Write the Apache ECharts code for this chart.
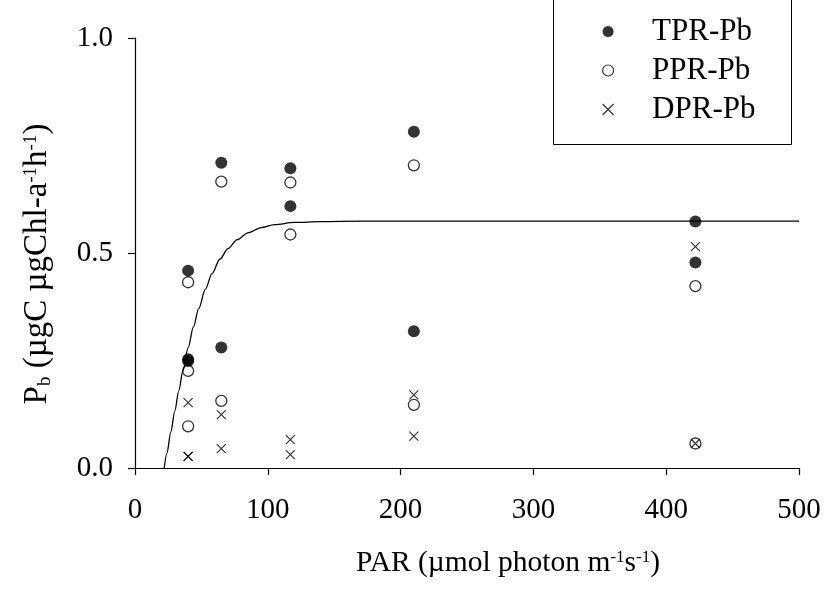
<!DOCTYPE html>
<html>
<head>
<meta charset="utf-8">
<script src="https://cdn.jsdelivr.net/npm/echarts@6/dist/echarts.min.js"></script>
<style>
html,body{margin:0;padding:0;background:#fff;}
#chart{width:825px;height:589px;}
</style>
</head>
<body>
<div id="chart"></div>
<script>
// ---- data ----
const tprPAR = [40, 40, 40, 65, 65, 117, 117, 210, 210, 422, 422];
const tprPb  = [0.459, 0.253, 0.249, 0.710, 0.280, 0.697, 0.609, 0.782, 0.318, 0.573, 0.478];
const pprPAR = [40, 40, 40, 65, 65, 117, 117, 210, 210, 422, 422];
const pprPb  = [0.432, 0.226, 0.097, 0.666, 0.156, 0.664, 0.543, 0.704, 0.147, 0.423, 0.057];
const dprPAR = [40, 40, 40, 65, 65, 117, 117, 210, 210, 422, 422];
const dprPb  = [0.027, 0.027, 0.152, 0.045, 0.124, 0.031, 0.066, 0.074, 0.170, 0.057, 0.515];
// fitted P-I curve
const curvePAR = [22, 24, 27, 30, 33, 36, 40, 44, 48, 53, 58, 64, 70, 77, 85, 95, 105, 120, 140, 170, 250, 500];
const curvePb  = [0, 0.034, 0.084, 0.133, 0.180, 0.225, 0.280, 0.328, 0.371, 0.416, 0.452, 0.486, 0.510, 0.531, 0.547, 0.559, 0.566, 0.571, 0.573, 0.574, 0.574, 0.574];
const seriesNames = ['TPR-Pb', 'PPR-Pb', 'DPR-Pb'];
const xTicks = [0, 100, 200, 300, 400, 500];
const yTicks = [0.0, 0.5, 1.0];

const zip = (a, b) => a.map((v, i) => [v, b[i]]);
const FONT = "'Liberation Serif', 'Times New Roman', serif";
const crossPath = 'path://M0,0L10,10M10,0L0,10';

const chart = echarts.init(document.getElementById('chart'), null, {renderer: 'canvas'});
chart.setOption({
  animation: false,
  backgroundColor: '#fff',
  textStyle: {fontFamily: FONT, color: '#000'},
  grid: {left: 135, right: 26, top: 38, bottom: 121},
  xAxis: {
    type: 'value', min: xTicks[0], max: xTicks[xTicks.length - 1], interval: 100,
    splitLine: {show: false},
    axisLine: {lineStyle: {color: '#000', width: 1.2}},
    axisTick: {inside: false, length: 7, lineStyle: {color: '#000', width: 1.2}},
    axisLabel: {fontFamily: FONT, fontSize: 29, color: '#000', margin: 28},
    name: 'PAR (µmol photon m{sup|-1}s{sup|-1})',
    nameLocation: 'middle', nameGap: 80,
    nameTextStyle: {
      fontFamily: FONT, fontSize: 29.5, color: '#000', padding: [0, 0, 0, 82],
      rich: {sup: {fontFamily: FONT, fontSize: 17, color: '#000', verticalAlign: 'bottom', padding: [0, 0, 12, 0]}}
    }
  },
  yAxis: {
    type: 'value', min: yTicks[0], max: yTicks[yTicks.length - 1], interval: 0.5,
    splitLine: {show: false},
    axisLine: {show: true, lineStyle: {color: '#000', width: 1.2}},
    axisTick: {show: true, inside: false, length: 7, lineStyle: {color: '#000', width: 1.2}},
    axisLabel: {fontFamily: FONT, fontSize: 29, color: '#000', margin: 22, formatter: v => v.toFixed(1)},
    name: 'P{sub|b} (µgC µgChl-a{sup|-1}h{sup|-1})',
    nameLocation: 'middle', nameGap: 80,
    nameTextStyle: {
      fontFamily: FONT, fontSize: 33, color: '#000', padding: [0, 22, 0, 0],
      rich: {
        sup: {fontFamily: FONT, fontSize: 19, color: '#000', verticalAlign: 'bottom', padding: [0, 0, 14, 0]},
        sub: {fontFamily: FONT, fontSize: 19, color: '#000', verticalAlign: 'top', padding: [16, 0, 0, 0]}
      }
    }
  },
  legend: {
    orient: 'vertical', left: 597, top: 11, itemGap: 8,
    itemWidth: 12, itemHeight: 11,
    textStyle: {fontFamily: FONT, fontSize: 31, color: '#000', lineHeight: 30, padding: [0, 0, 0, 33]},
    data: [
      {name: seriesNames[0], icon: 'circle', itemStyle: {color: '#000', borderWidth: 0}},
      {name: seriesNames[1], icon: 'circle', itemStyle: {color: 'transparent', borderColor: '#000', borderWidth: 1.2}},
      {name: seriesNames[2], icon: crossPath, itemStyle: {color: 'transparent', borderColor: '#000', borderWidth: 1.2}}
    ]
  },
  graphic: [{
    type: 'rect', z: 0,
    shape: {x: 553.5, y: -10, width: 238, height: 154.5},
    style: {fill: 'transparent', stroke: '#000', lineWidth: 1}
  }],
  series: [
    {
      type: 'line', name: 'fit', data: zip(curvePAR, curvePb),
      showSymbol: false, smooth: 0.3, smoothMonotone: 'x',
      lineStyle: {color: '#000', width: 1.3}, z: 1, silent: true
    },
    {
      type: 'scatter', name: seriesNames[0], data: zip(tprPAR, tprPb),
      symbol: 'circle', symbolSize: 12, itemStyle: {color: '#000'}, z: 3
    },
    {
      type: 'scatter', name: seriesNames[1], data: zip(pprPAR, pprPb),
      symbol: 'circle', symbolSize: 11,
      itemStyle: {color: 'transparent', borderColor: '#000', borderWidth: 1.3}, z: 4
    },
    {
      type: 'scatter', name: seriesNames[2], data: zip(dprPAR, dprPb),
      symbol: crossPath, symbolSize: 9,
      itemStyle: {color: 'transparent', borderColor: '#000', borderWidth: 1.2}, z: 5
    }
  ]
});
</script>
</body>
</html>
